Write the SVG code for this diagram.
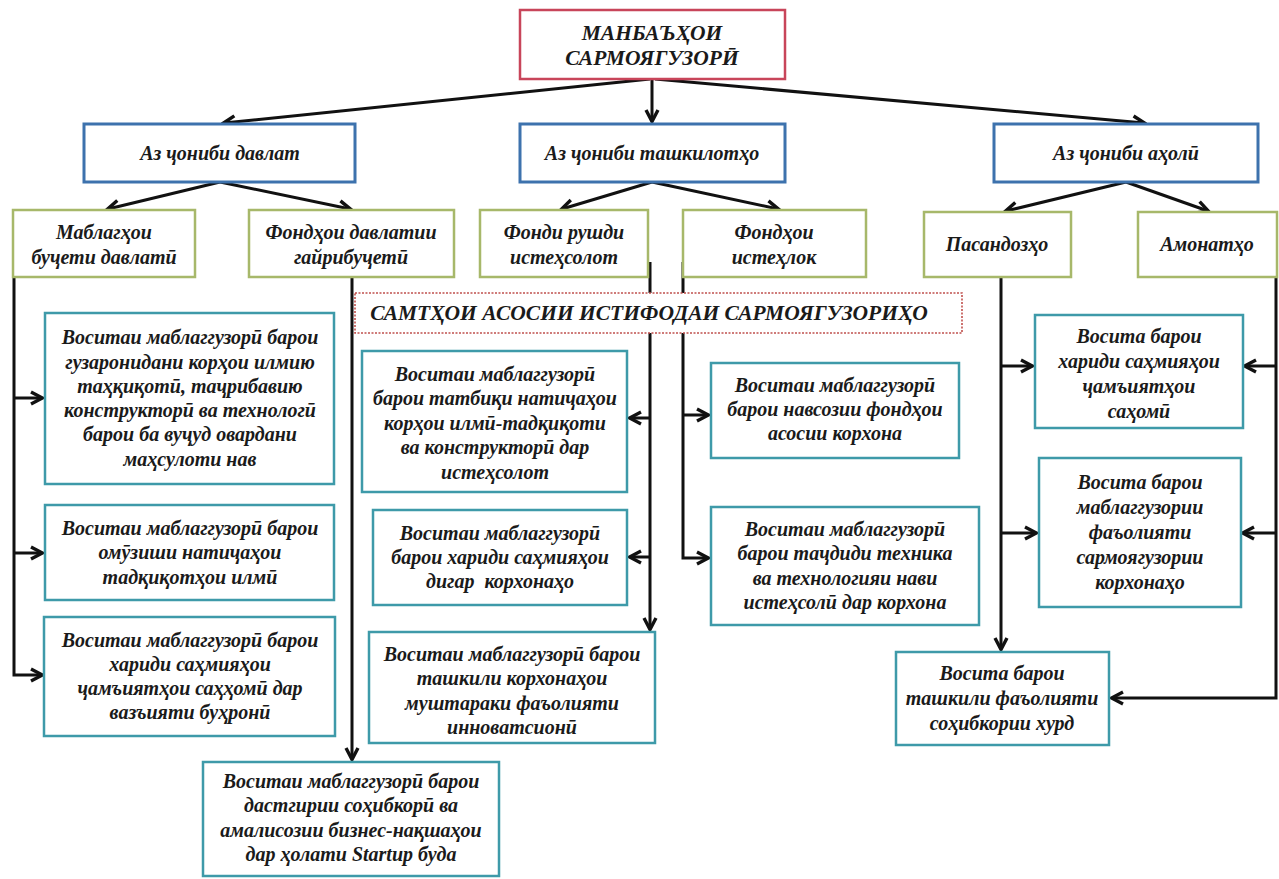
<svg xmlns="http://www.w3.org/2000/svg" width="1279" height="879" viewBox="0 0 1279 879">
  <style>
    .t { font-family: "Liberation Serif", "Times New Roman", serif; font-weight: bold; font-style: italic; font-size: 20px; fill: #1a1a1a; text-anchor: middle; }
    .caps { font-size: 21.5px; }
    .root { fill: #ffffff; stroke: #c8455a; stroke-width: 2.5; }
    .lvl2 { fill: #ffffff; stroke: #3d72ad; stroke-width: 3; }
    .lvl3 { fill: #ffffff; stroke: #a7b86a; stroke-width: 2.5; }
    .item { fill: #ffffff; stroke: #3e9aa9; stroke-width: 2.5; }
    .band { fill: #ffffff; stroke: #c0504d; stroke-width: 1.6; stroke-dasharray: 2 1.5; }
    .conn path { fill: none; stroke: #111111; stroke-width: 3; marker-end: url(#arrow); }
  </style>
  <defs>
    <marker id="arrow" markerUnits="userSpaceOnUse" markerWidth="16" markerHeight="16" viewBox="0 0 16 16" refX="13" refY="8" orient="auto">
      <path d="M2,2 L13.5,8 L2,14" fill="none" stroke="#111111" stroke-width="3.4" stroke-linejoin="miter"/>
    </marker>
  </defs>
  <rect width="1279" height="879" fill="#ffffff"/>

  <!-- connectors -->
  <g id="connectors" class="conn">
    <path d="M650,79 L224,123"/>
    <path d="M652,79 L652,121"/>
    <path d="M655,79 L1144,123"/>
    <path d="M220,182 L108,209"/>
    <path d="M220,182 L350,209"/>
    <path d="M652,182 L562,209"/>
    <path d="M652,182 L778,209"/>
    <path d="M1126,182 L1006,211"/>
    <path d="M1126,182 L1208,211"/>
    <!-- state budget trunk -->
    <path d="M14,245 L14,675 L42,675"/>
    <path d="M14,398 L42,398"/>
    <path d="M14,553 L42,553"/>
    <!-- extra-budgetary funds -->
    <path d="M352,277 L352,759"/>
    <!-- production development fund -->
    <path d="M650,262 L650,629"/>
    <path d="M650,418 L630,418"/>
    <path d="M650,557 L630,557"/>
    <!-- depreciation funds -->
    <path d="M683,262 L683,558 L708,558"/>
    <path d="M683,415 L708,415"/>
    <!-- savings -->
    <path d="M1001,277 L1001,649"/>
    <path d="M1001,366 L1032,366"/>
    <path d="M1001,533 L1036,533"/>
    <!-- deposits -->
    <path d="M1276,245 L1276,698 L1112,698"/>
    <path d="M1276,366 L1245,366"/>
    <path d="M1276,533 L1243,533"/>
  </g>

  <g id="root">
    <rect class="root" x="520" y="10" width="265" height="69"/>
    <text class="t caps" x="652" y="40">МАНБАЪҲОИ</text>
    <text class="t caps" x="652" y="65">САРМОЯГУЗОРӢ</text>
  </g>

  <g id="state">
    <rect class="lvl2" x="84" y="124" width="271" height="58"/>
    <text class="t" x="220" y="160">Аз ҷониби давлат</text>
  </g>
  <g id="organizations">
    <rect class="lvl2" x="520" y="124" width="265" height="58"/>
    <text class="t" x="652" y="160">Аз ҷониби ташкилотҳо</text>
  </g>
  <g id="population">
    <rect class="lvl2" x="994" y="124" width="264" height="58"/>
    <text class="t" x="1126" y="160">Аз ҷониби аҳолӣ</text>
  </g>

  <g id="budget-funds">
    <rect class="lvl3" x="13" y="210" width="182" height="67"/>
    <text class="t" x="104" y="239">Маблагҳои</text>
    <text class="t" x="104" y="264">буҷети давлатӣ</text>
  </g>
  <g id="extra-budget-funds">
    <rect class="lvl3" x="249" y="210" width="205" height="67"/>
    <text class="t" x="351" y="239">Фондҳои давлатии</text>
    <text class="t" x="351" y="264">гайрибуҷетӣ</text>
  </g>
  <g id="production-fund">
    <rect class="lvl3" x="480" y="210" width="168" height="67"/>
    <text class="t" x="564" y="239">Фонди рушди</text>
    <text class="t" x="564" y="264">истеҳсолот</text>
  </g>
  <g id="depreciation-funds">
    <rect class="lvl3" x="683" y="210" width="183" height="67"/>
    <text class="t" x="774" y="239">Фондҳои</text>
    <text class="t" x="774" y="264">истеҳлок</text>
  </g>
  <g id="savings">
    <rect class="lvl3" x="924" y="212" width="147" height="65"/>
    <text class="t" x="997" y="251">Пасандозҳо</text>
  </g>
  <g id="deposits">
    <rect class="lvl3" x="1138" y="212" width="139" height="65"/>
    <text class="t" x="1207" y="251">Амонатҳо</text>
  </g>

  <g id="directions">
    <rect class="band" x="355" y="293" width="607" height="40"/>
    <text class="t caps" x="649" y="320">САМТҲОИ АСОСИИ ИСТИФОДАИ САРМОЯГУЗОРИҲО</text>
  </g>

  <g id="research-works">
    <rect class="item" x="45" y="313" width="289" height="171"/>
    <text class="t" x="190" y="344">Воситаи маблаггузорӣ барои</text>
    <text class="t" x="190" y="369">гузаронидани корҳои илмию</text>
    <text class="t" x="190" y="393">таҳқиқотӣ, таҷрибавию</text>
    <text class="t" x="190" y="417">конструкторӣ ва технологӣ</text>
    <text class="t" x="190" y="441">барои ба вуҷуд овардани</text>
    <text class="t" x="190" y="466">маҳсулоти нав</text>
  </g>
  <g id="research-results">
    <rect class="item" x="45" y="505" width="289" height="95"/>
    <text class="t" x="190" y="535">Воситаи маблаггузорӣ барои</text>
    <text class="t" x="190" y="559">омӯзиши натиҷаҳои</text>
    <text class="t" x="190" y="584">тадқиқотҳои илмӣ</text>
  </g>
  <g id="crisis-shares">
    <rect class="item" x="44" y="617" width="291" height="119"/>
    <text class="t" x="190" y="647">Воситаи маблаггузорӣ барои</text>
    <text class="t" x="190" y="671">хариди саҳмияҳои</text>
    <text class="t" x="190" y="695">ҷамъиятҳои саҳҳомӣ дар</text>
    <text class="t" x="190" y="719">вазъияти буҳронӣ</text>
  </g>
  <g id="startup">
    <rect class="item" x="203" y="762" width="296" height="114"/>
    <text class="t" x="351" y="788">Воситаи маблаггузорӣ барои</text>
    <text class="t" x="351" y="812">дастгирии соҳибкорӣ ва</text>
    <text class="t" x="351" y="837">амалисозии бизнес-нақшаҳои</text>
    <text class="t" x="351" y="861">дар ҳолати Startup буда</text>
  </g>

  <g id="research-application">
    <rect class="item" x="362" y="351" width="265" height="141"/>
    <text class="t" x="495" y="381">Воситаи маблаггузорӣ</text>
    <text class="t" x="495" y="405">барои татбиқи натиҷаҳои</text>
    <text class="t" x="495" y="430">корҳои илмӣ-тадқиқоти</text>
    <text class="t" x="495" y="454">ва конструкторӣ дар</text>
    <text class="t" x="495" y="479">истеҳсолот</text>
  </g>
  <g id="other-shares">
    <rect class="item" x="373" y="510" width="254" height="95"/>
    <text class="t" x="500" y="540">Воситаи маблаггузорӣ</text>
    <text class="t" x="500" y="564">барои хариди саҳмияҳои</text>
    <text class="t" x="500" y="588" xml:space="preserve">дигар  корхонаҳо</text>
  </g>
  <g id="joint-ventures">
    <rect class="item" x="369" y="632" width="286" height="111"/>
    <text class="t" x="512" y="661">Воситаи маблаггузорӣ барои</text>
    <text class="t" x="512" y="685">ташкили корхонаҳои</text>
    <text class="t" x="512" y="710">муштараки фаъолияти</text>
    <text class="t" x="512" y="734">инноватсионӣ</text>
  </g>

  <g id="fixed-assets">
    <rect class="item" x="711" y="363" width="248" height="95"/>
    <text class="t" x="835" y="392">Воситаи маблаггузорӣ</text>
    <text class="t" x="835" y="416">барои навсозии фондҳои</text>
    <text class="t" x="835" y="440">асосии корхона</text>
  </g>
  <g id="re-equipment">
    <rect class="item" x="711" y="507" width="268" height="118"/>
    <text class="t" x="845" y="536">Воситаи маблаггузорӣ</text>
    <text class="t" x="845" y="560">барои таҷдиди техника</text>
    <text class="t" x="845" y="585">ва технологияи нави</text>
    <text class="t" x="845" y="609">истеҳсолӣ дар корхона</text>
  </g>

  <g id="household-shares">
    <rect class="item" x="1035" y="315" width="208" height="113"/>
    <text class="t" x="1139" y="343">Восита барои</text>
    <text class="t" x="1139" y="368">хариди саҳмияҳои</text>
    <text class="t" x="1139" y="393">ҷамъиятҳои</text>
    <text class="t" x="1139" y="418">саҳомӣ</text>
  </g>
  <g id="investment-activity">
    <rect class="item" x="1039" y="458" width="202" height="149"/>
    <text class="t" x="1140" y="489">Восита барои</text>
    <text class="t" x="1140" y="514">маблаггузории</text>
    <text class="t" x="1140" y="539">фаъолияти</text>
    <text class="t" x="1140" y="564">сармоягузории</text>
    <text class="t" x="1140" y="589">корхонаҳо</text>
  </g>
  <g id="small-business">
    <rect class="item" x="896" y="652" width="213" height="93"/>
    <text class="t" x="1002" y="680">Восита барои</text>
    <text class="t" x="1002" y="705">ташкили фаъолияти</text>
    <text class="t" x="1002" y="730">соҳибкории хурд</text>
  </g>
</svg>
